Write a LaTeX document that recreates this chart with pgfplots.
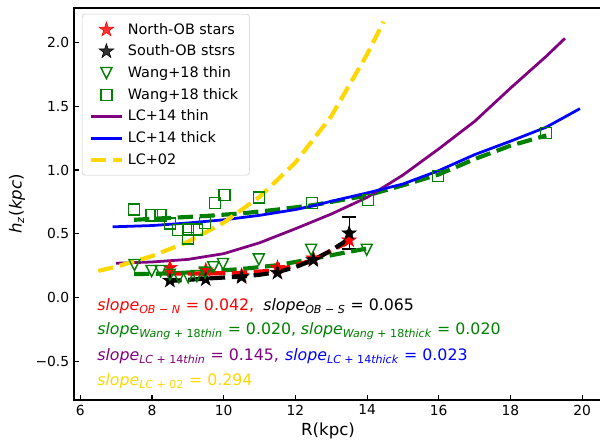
\documentclass[border=0pt]{standalone}
\usepackage{pgfplots}
\pgfplotsset{compat=1.18}
\usepackage{fontspec}
\setmainfont{DejaVu Sans}
\definecolor{mgreen}{HTML}{008000}
\definecolor{mpurple}{HTML}{800080}
\definecolor{mgold}{HTML}{FFD700}
\pgfdeclareplotmark{fstar}{%
  \pgfpathmoveto{\pgfpointpolar{90}{\pgfplotmarksize}}%
  \pgfpathlineto{\pgfpointpolar{126}{0.382\pgfplotmarksize}}%
  \pgfpathlineto{\pgfpointpolar{162}{\pgfplotmarksize}}%
  \pgfpathlineto{\pgfpointpolar{198}{0.382\pgfplotmarksize}}%
  \pgfpathlineto{\pgfpointpolar{234}{\pgfplotmarksize}}%
  \pgfpathlineto{\pgfpointpolar{270}{0.382\pgfplotmarksize}}%
  \pgfpathlineto{\pgfpointpolar{306}{\pgfplotmarksize}}%
  \pgfpathlineto{\pgfpointpolar{342}{0.382\pgfplotmarksize}}%
  \pgfpathlineto{\pgfpointpolar{18}{\pgfplotmarksize}}%
  \pgfpathlineto{\pgfpointpolar{54}{0.382\pgfplotmarksize}}%
  \pgfpathclose\pgfusepathqfillstroke}
\pgfdeclareplotmark{tridown}{%
  \pgfpathmoveto{\pgfqpoint{0pt}{-\pgfplotmarksize}}%
  \pgfpathlineto{\pgfqpoint{-\pgfplotmarksize}{\pgfplotmarksize}}%
  \pgfpathlineto{\pgfqpoint{\pgfplotmarksize}{\pgfplotmarksize}}%
  \pgfpathclose\pgfusepathqstroke}
\pgfplotsset{
  legline/.style={legend image code/.code={\draw[##1] (0pt,0pt) -- (22pt,0pt);}},
  legmark/.style={legend image code/.code={\draw[##1] plot coordinates {(11pt,0pt)};}},
  mdash/.style={dash pattern=on 11pt off 4.8pt},
}
\newcommand{\slp}[1]{\textit{slope}\textsubscript{#1}}
\newcommand{\annfont}{\fontsize{11.4}{13.5}\selectfont}
\begin{document}
\begin{tikzpicture}
\begin{axis}[
  scale only axis, width=380.9pt, height=283.3pt,
  xmin=5.824, xmax=20.53, ymin=-0.80, ymax=2.268,
  xtick={6,8,10,12,14,16,18,20}, xticklabels={6,8,10,12,14,16,18,20},
  ytick={-0.5,0,0.5,1,1.5,2}, yticklabels={−0.5,0.0,0.5,1.0,1.5,2.0},
  tick align=inside, xtick pos=bottom, ytick pos=left,
  major tick length=3.5pt, tick style={black, line width=0.8pt},
  axis line style={line width=0.8pt},
  ticklabel style={font=\fontsize{10}{12}\selectfont},
  xlabel={R(kpc)}, ylabel={\textit{h}\textsubscript{\textit{z}}(\textit{kpc})},
  label style={font=\fontsize{12}{14}\selectfont},
  xlabel style={at={(axis description cs:0.482,-0.079)}, anchor=center},
  ylabel style={at={(axis description cs:-0.108,0.5)}, anchor=center},
  clip=true,
  legend cell align=left,
  legend style={at={(axis description cs:0.015,0.985)}, anchor=north west,
    draw=black!20, rounded corners=2pt, fill=white, fill opacity=0.8, text opacity=1,
    font=\fontsize{10.4}{12}\selectfont, row sep=2.3pt, inner xsep=5pt, inner ysep=4.5pt,
    nodes={inner xsep=3pt, inner ysep=2pt}},
]
% data markers
\addplot[only marks, mark=fstar, mark size=5.5pt, red, legmark] coordinates {
(8.5,0.235) (9.5,0.215) (10.5,0.175) (11.5,0.235) (12.5,0.31) (13.5,0.45)};
\addlegendentry{North-OB stars}
\addplot[only marks, mark=fstar, mark size=5.5pt, black, legmark] coordinates {
(8.5,0.135) (9.5,0.145) (10.5,0.162) (11.5,0.196) (12.5,0.295) (13.5,0.505)};
\addlegendentry{South-OB stsrs}
\addplot[only marks, mark=tridown, mark size=4pt, mgreen, line width=1pt, legmark] coordinates {
(7.51,0.256) (7.99,0.209) (8.24,0.209) (8.5,0.18) (8.75,0.16) (9.01,0.16) (9.25,0.17)
(9.48,0.196) (9.71,0.238) (9.98,0.264) (10.98,0.30) (12.44,0.375) (13.99,0.375)};
\addlegendentry{Wang+18 thin}
\addplot[only marks, mark=square, mark size=4pt, mgreen, line width=1pt, legmark] coordinates {
(7.50,0.69) (7.99,0.645) (8.24,0.645) (8.50,0.58) (8.73,0.53) (9.00,0.535) (9.01,0.465)
(9.25,0.535) (9.48,0.585) (9.75,0.74) (10.02,0.805) (10.99,0.785) (12.46,0.743)
(14.02,0.765) (15.98,0.952) (18.99,1.29)};
\addlegendentry{Wang+18 thick}
% error bar
\addplot[forget plot, only marks, mark=none, black, line width=1.5pt,
  error bars/.cd, y dir=both, y explicit, error mark options={black, line width=1.5pt, mark size=5pt, rotate=90}]
  coordinates {(13.5,0.505) +- (0,0.125)};
% fits
\addplot[forget plot, mgreen, line width=3pt, mdash] coordinates {
(7.5,0.185) (8.5,0.19) (9.5,0.205) (10.5,0.225) (11.5,0.255) (12.5,0.305) (13.5,0.36) (14,0.385)};
\addplot[forget plot, mgreen, line width=3pt, mdash] coordinates {
(7.5,0.61) (8.5,0.625) (9.5,0.64) (10.5,0.66) (11.5,0.69) (12.5,0.725) (13.5,0.775) (14,0.80)
(15,0.88) (16,0.965) (17,1.085) (18,1.19) (19,1.27)};
\addplot[forget plot, red, line width=3pt, mdash] coordinates {
(8.4,0.19) (9.5,0.19) (10.5,0.195) (11.5,0.215) (12.5,0.295) (13,0.37) (13.5,0.44)};
\addplot[forget plot, black, line width=3pt, mdash] coordinates {
(8.4,0.13) (9,0.14) (9.5,0.15) (10,0.158) (10.5,0.165) (11,0.18) (11.5,0.2) (12,0.24)
(12.5,0.295) (13,0.37) (13.6,0.48)};
% models
\addplot[mpurple, line width=2pt, legline] coordinates {
(7,0.27) (8,0.28) (9,0.30) (10,0.345) (11,0.43) (12,0.54) (13,0.655) (14,0.785)
(15,0.96) (16,1.165) (17,1.38) (18,1.64) (19,1.89) (19.52,2.03)};
\addlegendentry{LC+14 thin}
\addplot[blue, line width=2pt, legline] coordinates {
(6.9,0.555) (8,0.565) (9,0.585) (10,0.61) (11,0.645) (12,0.69) (12.5,0.72) (13,0.755)
(14,0.82) (15,0.89) (16,0.995) (17,1.12) (18,1.225) (19,1.335) (19.94,1.48)};
\addlegendentry{LC+14 thick}
\addplot[mgold, line width=3pt, mdash, legline] coordinates {
(6.5,0.21) (7,0.243) (8,0.326) (9,0.438) (10,0.588) (11,0.789) (12,1.058) (13,1.42)
(14,1.905) (14.46,2.16)};
\addlegendentry{LC+02}
% annotations
\node[anchor=west, font=\annfont, inner sep=0pt, text=red] at (axis description cs:0.0436,0.240)
  {\slp{\textit{OB} − \textit{N}} = 0.042,};
\node[anchor=west, font=\annfont, inner sep=0pt] at (axis description cs:0.3586,0.240)
  {\slp{\textit{OB} − \textit{S}} = 0.065};
\node[anchor=west, font=\annfont, inner sep=0pt, text=mgreen] at (axis description cs:0.0436,0.176)
  {\slp{\textit{Wang} + 18\textit{thin}} = 0.020,\hspace{0.3em}\slp{\textit{Wang} + 18\textit{thick}} = 0.020};
\node[anchor=west, font=\annfont, inner sep=0pt, text=mpurple] at (axis description cs:0.0436,0.112)
  {\slp{\textit{LC} + 14\textit{thin}} = 0.145,};
\node[anchor=west, font=\annfont, inner sep=0pt, text=blue] at (axis description cs:0.400,0.112)
  {\slp{\textit{LC} + 14\textit{thick}} = 0.023};
\node[anchor=west, font=\annfont, inner sep=0pt, text=mgold] at (axis description cs:0.0436,0.0485)
  {\slp{\textit{LC} + 02} = 0.294};
\end{axis}
\pgfresetboundingbox
\path (current axis.south west) ++(-53.5pt,-34pt) rectangle ++(433.6pt,323.05pt);
\end{tikzpicture}
\end{document}
